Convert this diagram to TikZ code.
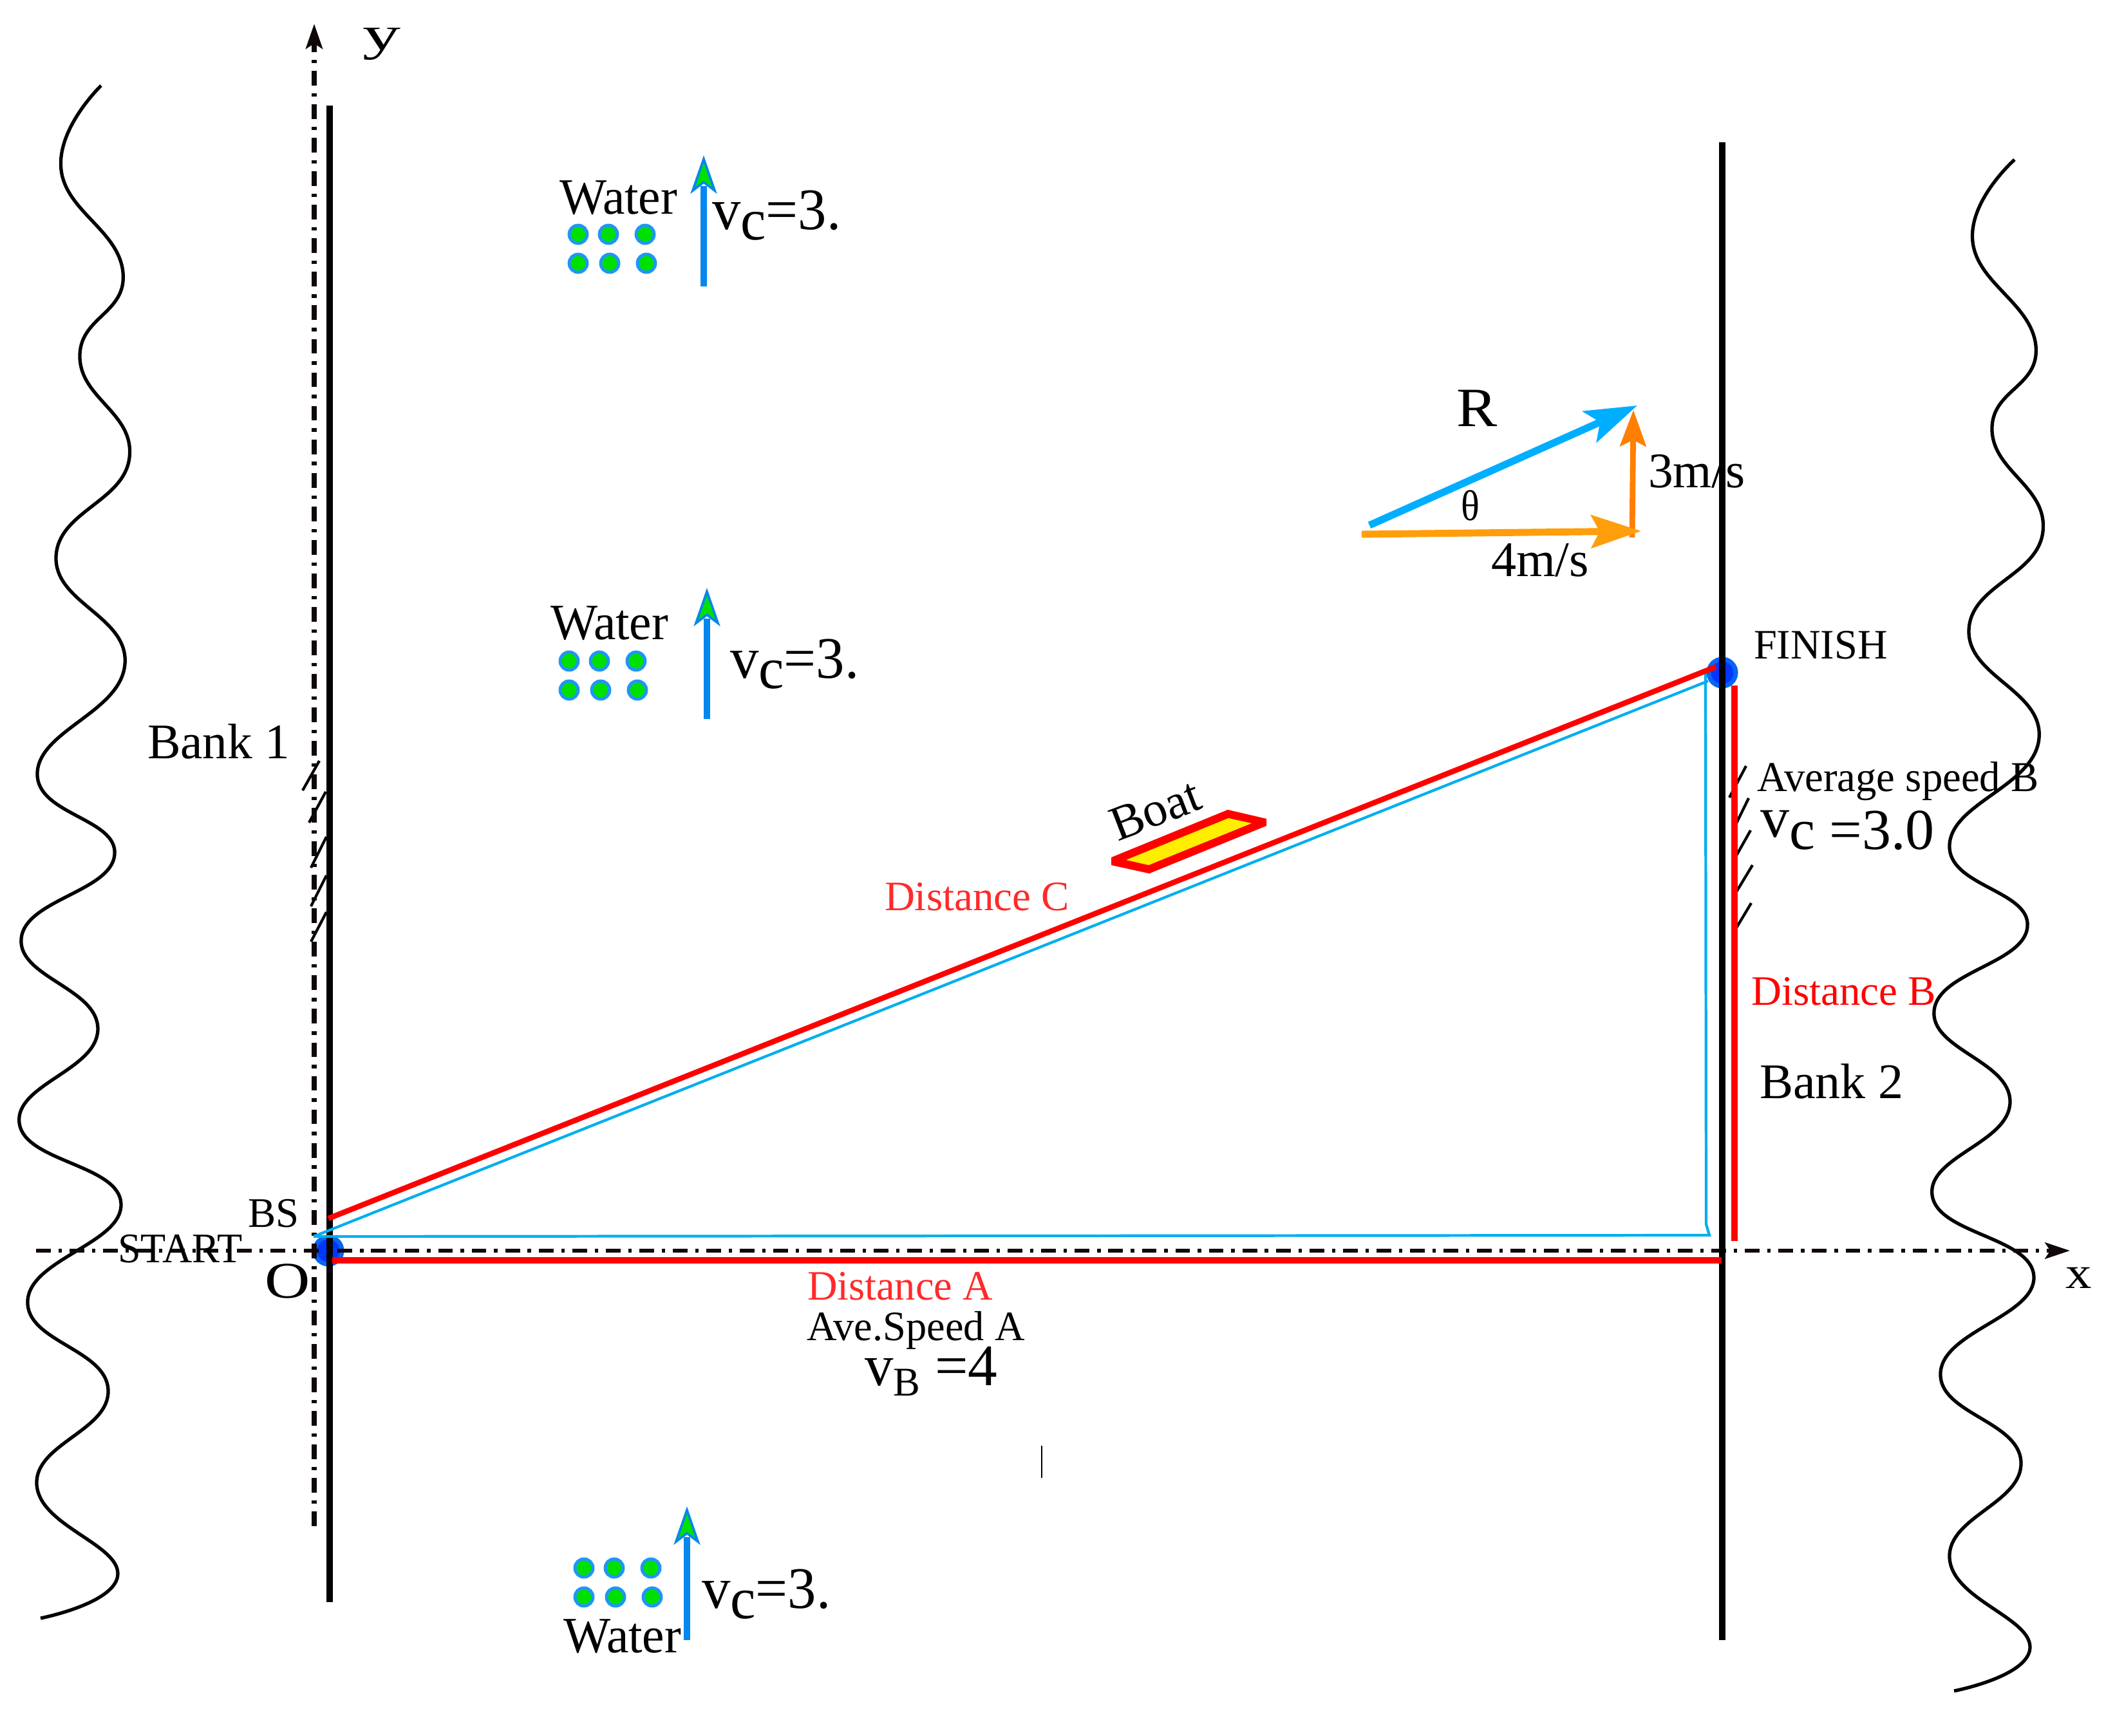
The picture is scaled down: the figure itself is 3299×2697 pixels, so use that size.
\documentclass[tikz,border=0pt]{standalone}
\usepackage{fontspec}
\setmainfont{Liberation Serif}
\usetikzlibrary{arrows.meta}
\definecolor{axisk}{HTML}{100808}
\definecolor{redl}{HTML}{FF0000}
\definecolor{redt}{HTML}{FF2A2A}
\definecolor{cyanl}{HTML}{00AEEF}
\definecolor{dotout}{HTML}{0A64F5}
\definecolor{dotin}{HTML}{0037FF}
\definecolor{flowb}{HTML}{0587EE}
\definecolor{ringb}{HTML}{1E96F5}
\definecolor{wgreen}{HTML}{00E000}
\definecolor{boaty}{HTML}{FFEE00}
\definecolor{vecb}{HTML}{00AEFF}
\definecolor{veco}{HTML}{FF9E0B}
\definecolor{vecd}{HTML}{FF7F00}
\newcommand{\sx}[3]{\scalebox{#2}[1]{\fontsize{#1pt}{#1pt}\selectfont #3}}
\newcommand{\vcthree}{\sx{26}{.97}{\raisebox{4.3pt}{v}c\raisebox{4.3pt}{=3.}}}
\tikzset{
  lbl/.style={inner sep=0pt,outer sep=0pt,anchor=base west},
  bankline/.style={line width=2.9pt,black},
  axisline/.style={axisk,dash pattern=on 6.5pt off 3.4pt on 1.5pt off 3.4pt},
  wave/.style={line width=1.5pt,black,smooth,tension=0.8},
  hatch/.style={line width=1.2pt,black},
  redthick/.style={line width=2.9pt,redl},
  cyanthin/.style={line width=1.2pt,cyanl,line join=miter},
  bigdot/.style={fill=dotin,draw=dotout,line width=2pt},
  wdot/.style={fill=wgreen,draw=ringb,line width=1.4pt},
}
% group of six water dots
\newcommand{\wdots}[2]{\begin{scope}[shift={(#1,#2)}]
  \draw[wdot] (0,0) circle[radius=14];
  \draw[wdot] (47,0) circle[radius=14];
  \draw[wdot] (104,0) circle[radius=14];
  \draw[wdot] (0,45) circle[radius=14];
  \draw[wdot] (49,45) circle[radius=14];
  \draw[wdot] (106,45) circle[radius=14];
\end{scope}}
% water-flow arrow: x, tip y, name, shaft bottom offset
\newcommand{\wflow}[4]{\begin{scope}[shift={(#1,#2)}]
  \coordinate (#3b) at (0,#4);
  \coordinate (#3t) at (0,48);
  \draw[flowb,line width=2.9pt] (#3b) -- (#3t);
  \draw[flowb,fill=wgreen,line width=1.05pt,line join=miter] (0,6) -- (-17,55) -- (0,42) -- (17,55) -- cycle;
\end{scope}}
\begin{document}
\begin{tikzpicture}[x=0.01cm,y=-0.01cm]
\useasboundingbox (0,0) rectangle (3299,2697);
% banks of the river (wavy)
\draw[wave] plot coordinates {(157,133) (95,264) (191,423) (124,556) (201,711) (87,866) (194,1032) (58,1200) (178,1328) (33,1458) (152,1599) (30,1745) (188,1870) (43,2020) (168,2159) (57,2306) (183,2444) (63,2514)};
\draw[wave] plot coordinates {(3129,248) (3064,376) (3162,537) (3094,669) (3173,826) (3058,980) (3167,1147) (3028,1312) (3149,1440) (3004,1570) (3122,1712) (3001,1857) (3159,1983) (3014,2132) (3139,2271) (3028,2420) (3153,2558) (3035,2627)};
% named points
\coordinate (O) at (510,1943);
\coordinate (F) at (2675,1045);
\coordinate (b1t) at (512,164);
\coordinate (b1b) at (512,2489);
\coordinate (b2t) at (2675,221);
\coordinate (b2b) at (2675,2548);
\coordinate (xs) at (56,1943);
\coordinate (xe) at (3215,1943);
\coordinate (ys) at (488,2371);
\coordinate (ye) at (488,37);
% start and finish dots
\draw[bigdot] (O) circle[radius=21];
\draw[bigdot] (F) circle[radius=21];
% hatches
\draw[hatch] (496,1182) -- (470,1228);
\draw[hatch] (506,1230) -- (480,1278);
\draw[hatch] (507,1300) -- (483,1348);
\draw[hatch] (507,1360) -- (483,1408);
\draw[hatch] (507,1417) -- (483,1463);
\draw[hatch] (2712,1190) -- (2686,1239);
\draw[hatch] (2716,1240) -- (2693,1287);
\draw[hatch] (2719,1290) -- (2693,1336);
\draw[hatch] (2722,1344) -- (2693,1392);
\draw[hatch] (2720,1403) -- (2693,1448);
% axes
\draw[axisline,line width=2pt,-{Stealth[length=11pt,width=7.4pt,inset=2.3pt]}] (ys) -- (ye);
\draw[axisline,line width=1.8pt,-{Stealth[length=11pt,width=7.2pt,inset=2.3pt]}] (xs) -- (xe);
% vertical bank lines
\draw[bankline] (b1t) -- (b1b);
\draw[bankline] (b2t) -- (b2b);
% cyan actual path
\coordinate (c1) at (487,1921);
\coordinate (c2) at (2653,1058);
\coordinate (c3) at (2649,1045);
\coordinate (c4) at (2650,1902);
\coordinate (c5) at (2655,1919);
\draw[cyanthin] (c1) -- (c2);
\draw[cyanthin] (c3) -- (c4) -- (c5) -- (c1);
% red distances
\coordinate (ra1) at (516,1958);
\coordinate (ra2) at (2674,1958);
\coordinate (rb1) at (2694,1065);
\coordinate (rb2) at (2694,1928);
\coordinate (rc1) at (510,1893);
\coordinate (rc2) at (2665,1036);
\draw[redthick] (ra1) -- (ra2);
\draw[redthick] (rb1) -- (rb2);
\draw[redl,line width=2.4pt] (rc1) -- (rc2);
% boat
\fill[redl] (1726,1332) -- (1907,1258) -- (1967,1272) -- (1967,1283) -- (1785,1357) -- (1726,1344) -- cycle;
\fill[boaty] (1749,1336) -- (1908,1271) -- (1944,1279) -- (1784,1344) -- cycle;
% water groups
\wdots{898}{364}
\wdots{884}{1027}
\wdots{907}{2436}
\wflow{1093}{241}{fa}{204}
\wflow{1098}{913}{fb}{204}
\wflow{1067}{2340}{fc}{208}
% vector triangle
\coordinate (v3a) at (2535,835);
\coordinate (v3b) at (2537,637);
\coordinate (vra) at (2127,816);
\coordinate (vrb) at (2543,630);
\coordinate (v4a) at (2115,830);
\coordinate (v4b) at (2549,825);
\draw[vecd,line width=2.5pt,-{Stealth[length=16pt,width=11.5pt,inset=2.8pt]}] (v3a) -- (v3b);
\draw[vecb,line width=3.2pt,-{Stealth[length=23pt,width=15pt,inset=5pt]}] (vra) -- (vrb);
\draw[veco,line width=3.1pt,-{Stealth[length=22pt,width=14.5pt,inset=3.7pt]}] (v4a) -- (v4b);
% stray tick
\coordinate (ta) at (1618,2246);
\coordinate (tb) at (1618,2296);
\draw[black,line width=0.4pt] (ta) -- (tb);
% labels
\node[lbl] (ly) at (563,78) {\sx{21}{1.6}{y}};
\node[lbl] (lx) at (3208,2001) {\sx{20}{1.15}{x}};
\node[lbl] (lo) at (411,2016) {\sx{22.7}{1.22}{O}};
\node[lbl] (lbs) at (385,1906) {\sx{18.6}{.99}{BS}};
\node[lbl] (lst) at (183,1961) {\sx{18.6}{.98}{START}};
\node[lbl] (lfi) at (2724,1023) {\sx{18.5}{.99}{FINISH}};
\node[lbl] (lb1) at (229,1178) {\sx{22}{1}{Bank 1}};
\node[lbl] (lb2) at (2733,1706) {\sx{22}{1.01}{Bank 2}};
\node[lbl] (law) at (869,332) {\sx{22.5}{.98}{Water}};
\node[lbl] (lbw) at (855,993) {\sx{22.5}{.98}{Water}};
\node[lbl] (lcw) at (875,2567) {\sx{22.5}{.98}{Water}};
\node[lbl] (lav) at (1106,372) {\vcthree};
\node[lbl] (lbv) at (1134,1069) {\vcthree};
\node[lbl] (lcv) at (1090,2514) {\vcthree};
\node[lbl] (lr) at (2262,662) {\sx{24.5}{1.1}{R}};
\node[lbl] (lth) at (2269,808) {\sx{19}{.9}{θ}};
\node[lbl] (l3m) at (2560,757) {\sx{22}{1}{3m/s}};
\node[lbl] (l4m) at (2316,895) {\sx{22}{1.01}{4m/s}};
\node[lbl,rotate=21] (lboat) at (1736,1307) {\sx{21.7}{1}{Boat}};
\node[lbl,text=redt] (lda) at (1254,2019) {\sx{18.5}{.99}{Distance A}};
\node[lbl,text=redt] (ldc) at (1374,1414) {\sx{18.5}{1}{Distance C}};
\node[lbl,text=redl] (ldb) at (2720,1561) {\sx{18.5}{1}{Distance B}};
\node[lbl] (lasp) at (1253,2082) {\sx{18.5}{.99}{Ave.Speed A}};
\node[lbl] (lvb) at (1343,2168) {\raisebox{4.55pt}{\sx{26}{.97}{v}}\sx{18}{.99}{B}\raisebox{4.55pt}{\sx{26}{1}{ =4}}};
\node[lbl] (lbsp) at (2729,1229) {\sx{18.8}{.98}{Average speed B}};
\node[lbl] (lvc) at (2734,1319) {\sx{25.6}{1}{\raisebox{5.3pt}{v}c =3.0}};
\end{tikzpicture}
\end{document}
